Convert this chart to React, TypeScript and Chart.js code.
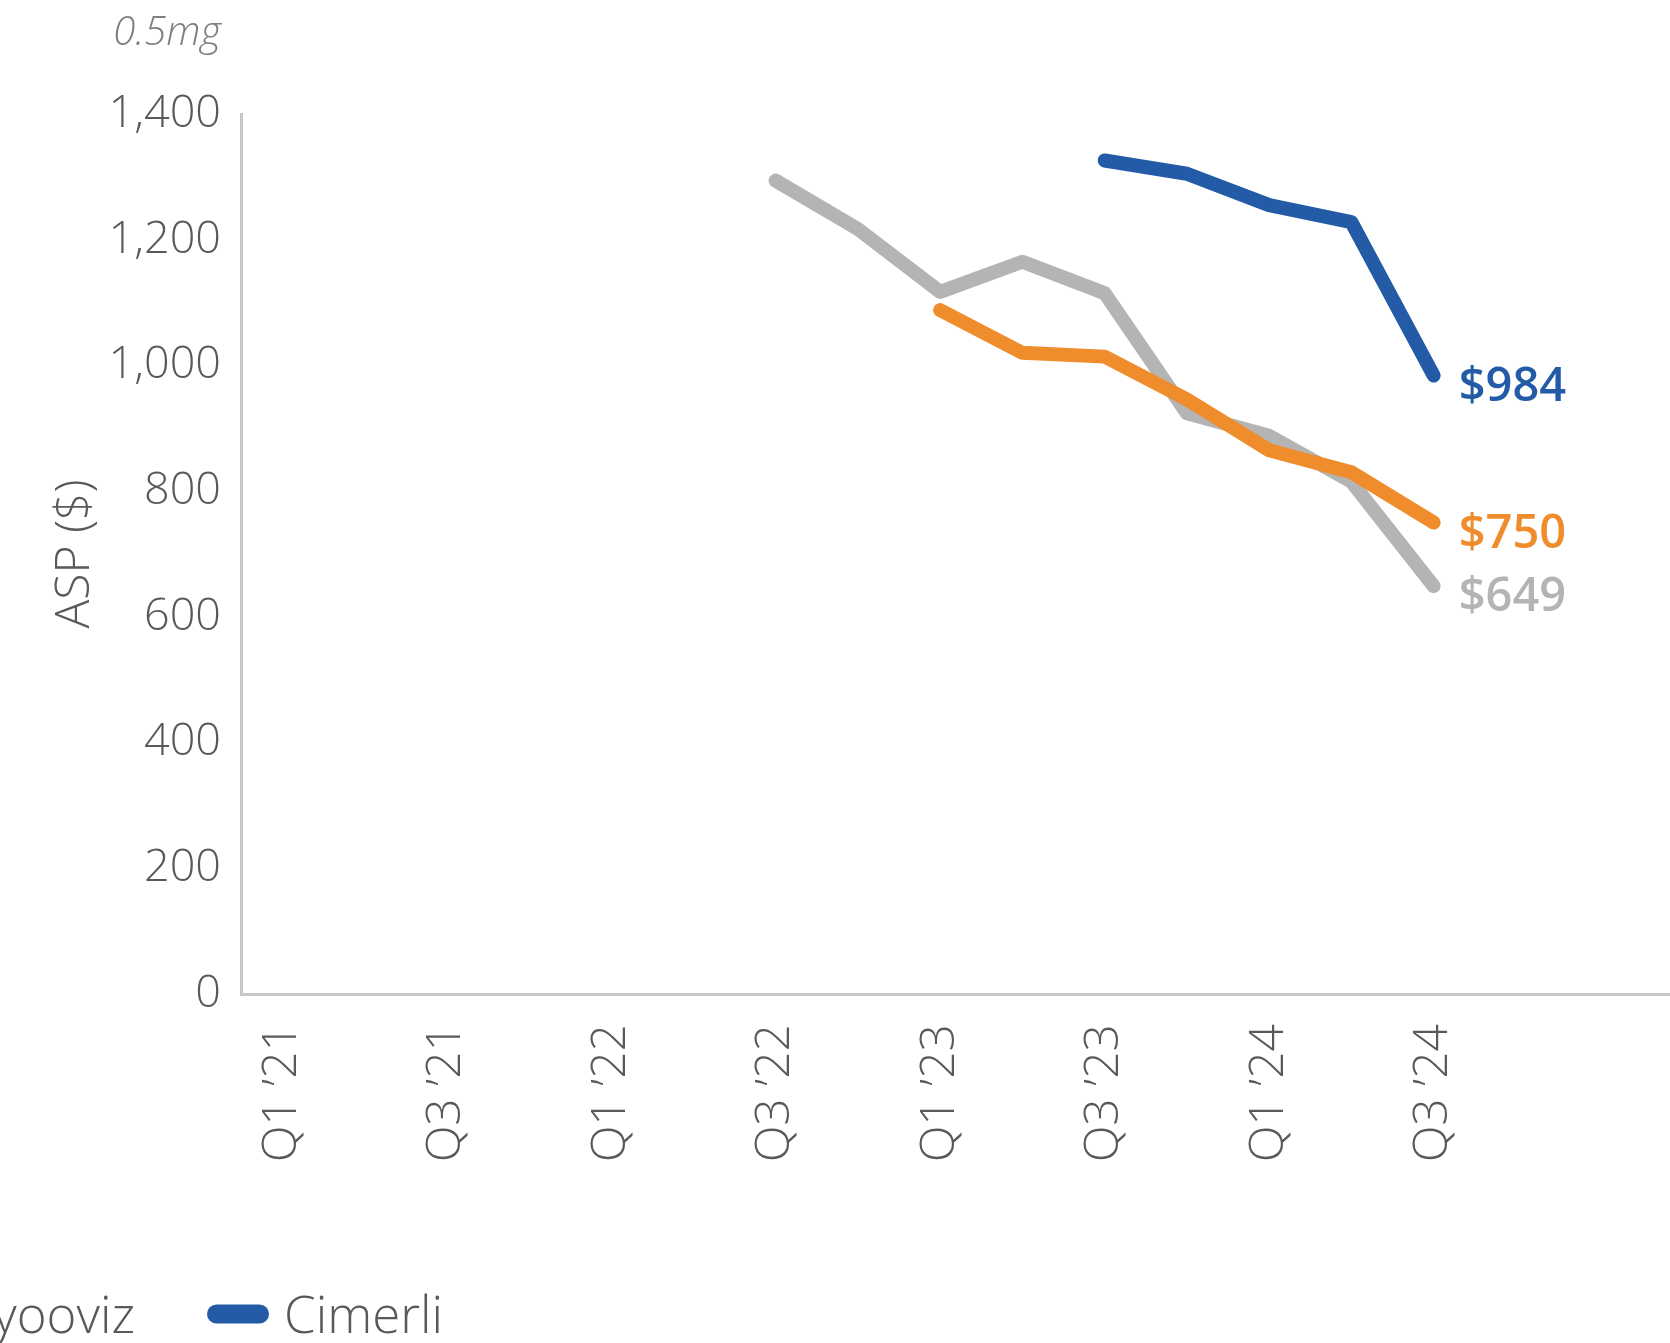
import React, { useEffect, useRef } from "react";
import { Chart, registerables } from "chart.js";

Chart.register(...registerables);

// ---- data ----
const quarters = [
  "Q1 ’21", "Q2 ’21", "Q3 ’21", "Q4 ’21",
  "Q1 ’22", "Q2 ’22", "Q3 ’22", "Q4 ’22",
  "Q1 ’23", "Q2 ’23", "Q3 ’23", "Q4 ’23",
  "Q1 ’24", "Q2 ’24", "Q3 ’24", "Q4 ’24",
  "Q1 ’25", "Q2 ’25",
];
const tickLabels = ["Q1 ’21", "Q3 ’21", "Q1 ’22", "Q3 ’22", "Q1 ’23", "Q3 ’23", "Q1 ’24", "Q3 ’24"];
const yTicks = [0, 200, 400, 600, 800, 1000, 1200, 1400];

const seriesNames = ["Lucentis", "Byooviz", "Cimerli"];
const seriesColors = ["#EF8C2B", "#B4B4B4", "#245BA7"];
const lucentisValues = [null, null, null, null, null, null, null, null, 1088, 1020, 1014, 946, 865, 830, 750, null, null, null];
const byoovizValues = [null, null, null, null, null, null, 1294, 1217, 1117, 1165, 1115, 924, 888, 815, 649, null, null, null];
const cimerliValues = [null, null, null, null, null, null, null, null, null, null, 1326, 1305, 1255, 1228, 984, null, null, null];
const seriesValues = [lucentisValues, byoovizValues, cimerliValues];

const unitLabel = "0.5mg";
const yTitle = "ASP ($)";

const FONT = "'Open Sans', 'Noto Sans', sans-serif";
const TEXT = "#595959";
const AXIS = "#C8C8C8";

const endLabels = {
  id: "endLabels",
  afterDatasetsDraw(chart: any) {
    const ctx = chart.ctx;
    ctx.save();
    ctx.font = `600 47px ${FONT}`;
    ctx.textAlign = "left";
    ctx.textBaseline = "middle";
    chart.data.datasets.forEach((ds: any, i: number) => {
      const meta = chart.getDatasetMeta(i);
      let last = -1;
      ds.data.forEach((v: any, j: number) => { if (v !== null) last = j; });
      if (last < 0) return;
      const pt = meta.data[last];
      ctx.fillStyle = ds.borderColor;
      ctx.fillText("$" + ds.data[last], pt.x + 25, pt.y + 12);
    });
    ctx.restore();
  },
};

const extras = {
  id: "extras",
  afterDraw(chart: any) {
    const ctx = chart.ctx;
    const area = chart.chartArea;
    ctx.save();
    // unit label above y axis
    ctx.font = `italic 300 40px ${FONT}`;
    ctx.fillStyle = "#7F7F7F";
    ctx.textAlign = "right";
    ctx.textBaseline = "alphabetic";
    ctx.fillText(unitLabel, area.left - 20, 45);

    // legend (laid out right-to-left from the last item)
    ctx.font = `300 51px ${FONT}`;
    const markerW = 62;
    const markerH = 19;
    const gap = 15;
    const itemGap = 72;
    const yMid = 1314;
    const datasets = chart.data.datasets;
    let x = 207;
    const positions: number[] = [];
    for (let i = datasets.length - 1; i >= 0; i--) {
      positions[i] = x;
      if (i > 0) {
        const prevW = ctx.measureText(datasets[i - 1].label).width;
        x = x - itemGap - prevW - gap - markerW;
      }
    }
    datasets.forEach((ds: any, i: number) => {
      const mx = positions[i];
      ctx.strokeStyle = ds.borderColor;
      ctx.lineWidth = markerH;
      ctx.lineCap = "round";
      ctx.beginPath();
      ctx.moveTo(mx + markerH / 2, yMid);
      ctx.lineTo(mx + markerW - markerH / 2, yMid);
      ctx.stroke();
      ctx.fillStyle = TEXT;
      ctx.textAlign = "left";
      ctx.textBaseline = "alphabetic";
      ctx.fillText(ds.label, mx + markerW + gap, 1333);
    });
    ctx.restore();
  },
};

export default function App() {
  const ref = useRef<HTMLCanvasElement | null>(null);

  useEffect(() => {
    if (!ref.current) return;
    Chart.defaults.font.family = FONT;
    const chart = new Chart(ref.current, {
      type: "line",
      data: {
        labels: quarters,
        datasets: seriesNames.map((name, i) => ({
          label: name,
          data: seriesValues[i],
          borderColor: seriesColors[i],
          backgroundColor: seriesColors[i],
          borderWidth: 14,
          borderCapStyle: "round",
          borderJoinStyle: "round",
          pointRadius: 0,
          pointHoverRadius: 0,
          tension: 0,
          fill: false,
        })),
      },
      options: {
        responsive: false,
        animation: false,
        devicePixelRatio: 1,
        layout: { padding: { top: 114, right: 0, bottom: 0, left: 0 } },
        plugins: {
          legend: { display: false },
          tooltip: { enabled: false },
          title: { display: false },
        },
        scales: {
          x: {
            type: "category",
            offset: true,
            grid: { display: false, drawTicks: false },
            border: { display: true, color: AXIS, width: 3 },
            ticks: {
              autoSkip: false,
              maxRotation: 90,
              minRotation: 90,
              padding: 30,
              color: TEXT,
              font: { family: FONT, size: 48, weight: "300" },
              callback: (_v: any, i: number) => (tickLabels.includes(quarters[i]) ? quarters[i] : ""),
            },
            afterFit: (scale: any) => { scale.height = 349; },
          },
          y: {
            min: 0,
            max: 1400,
            afterBuildTicks: (scale: any) => { scale.ticks = yTicks.map((v) => ({ value: v })); },
            grid: { display: false, drawTicks: false },
            border: { display: true, color: AXIS, width: 3 },
            ticks: {
              padding: 20,
              color: TEXT,
              font: { family: FONT, size: 45, weight: "300" },
              callback: (v: any) => Number(v).toLocaleString("en-US"),
            },
            title: {
              display: true,
              text: yTitle,
              color: TEXT,
              font: { family: FONT, size: 48, weight: "300" },
              padding: { top: 47, bottom: 0 },
            },
            afterFit: (scale: any) => { scale.width = 241; },
          },
        },
      },
      plugins: [endLabels, extras],
    });
    return () => chart.destroy();
  }, []);

  return (
    <div style={{ position: "fixed", left: 0, top: 0, width: "100vw", height: "100vh", overflow: "hidden", background: "#fff" }}>
      <canvas ref={ref} width={1768} height={1343} style={{ position: "absolute", left: 0, top: 0 }} />
    </div>
  );
}
